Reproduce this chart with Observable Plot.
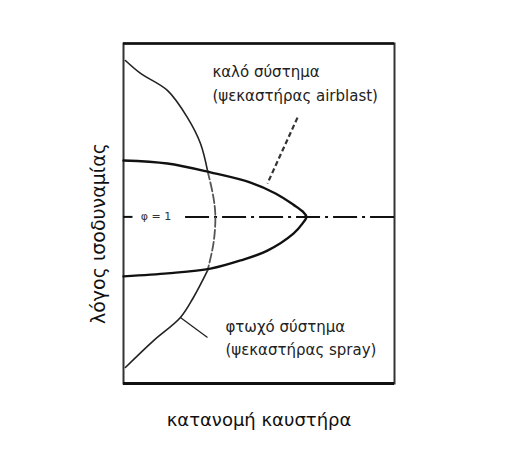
<!DOCTYPE html>
<html><head><meta charset="utf-8">
<script src="https://cdn.jsdelivr.net/npm/d3@7"></script>
<script src="https://cdn.jsdelivr.net/npm/@observablehq/plot@0.6"></script>
<style>body{margin:0;background:#fff;font-family:"DejaVu Sans",sans-serif}</style>
</head><body><div id="chart"></div>
<script>
// good system (airblast atomizer): burner distribution (x) vs equivalence ratio (y)
const goodX = [0, 0.162, 0.321, 0.469, 0.561, 0.627, 0.661, 0.675, 0.661, 0.627, 0.531, 0.432, 0.321, 0.162, 0];
const goodY = [1.166, 1.157, 1.131, 1.101, 1.069, 1.036, 1.016, 1.0, 0.981, 0.951, 0.901, 0.872, 0.848, 0.834, 0.825];
// poor system (spray atomizer)
const poorX = [0.007, 0.063, 0.162, 0.236, 0.284, 0.310, 0.332, 0.339, 0.332, 0.310, 0.258, 0.210, 0.111, 0.007];
const poorY = [1.46, 1.422, 1.372, 1.292, 1.216, 1.136, 1.057, 1.0, 0.922, 0.842, 0.763, 0.704, 0.636, 0.557];
const poorSeg = ["a","a","a","a","a","a","b","b","b","b","c","c","c","c"];
const phi = 1;
const labelGood = ["καλό σύστημα", "(ψεκαστήρας airblast)"];
const labelPoor = ["φτωχό σύστημα", "(ψεκαστήρας spray)"];
const xLabel = "κατανομή καυστήρα";
const yLabel = "λόγος ισοδυναμίας";
const phiLabel = "φ = 1";

const good = goodX.map((x, i) => ({x, y: goodY[i]}));
// split poor curve into segments, duplicating joint points so they connect
const poor = [];
["a","b","c"].forEach((s, k) => {
  const idx = poorSeg.map((v,i)=>v===s?i:-1).filter(i=>i>=0);
  if (k>0) idx.unshift(idx[0]-1);
  idx.forEach(i => poor.push({x: poorX[i], y: poorY[i], s}));
});

const FONT = "DejaVu Sans, sans-serif";
const chart = Plot.plot({
  width: 508, height: 459,
  marginLeft: 123, marginRight: 114, marginTop: 43, marginBottom: 76,
  x: {domain: [0, 1], axis: null},
  y: {domain: [0.51, 1.51], axis: null},
  style: {fontFamily: FONT, background: "#fff"},
  marks: [
    Plot.frame({stroke: "#333", strokeWidth: 2}),
    Plot.ruleY([0.51], {stroke: "#111", strokeWidth: 3}),
    Plot.ruleY([1.51], {stroke: "#111", strokeWidth: 2.5}),
    Plot.ruleY([phi], {x1: 0, x2: 0.035, stroke: "#111", strokeWidth: 2}),
    Plot.ruleY([phi], {x1: 0.229, x2: 1, stroke: "#111", strokeWidth: 2, strokeDasharray: "24,5,3,5"}),
    Plot.text([phiLabel], {x: 0.12, y: phi, fontSize: 11, fill: "#333"}),
    Plot.line(poor.filter(d=>d.s!=="b"), {x: "x", y: "y", z: "s", curve: "catmull-rom", stroke: "#222", strokeWidth: 1.6}),
    Plot.line(poor.filter(d=>d.s==="b"), {x: "x", y: "y", curve: "catmull-rom", stroke: "#555", strokeWidth: 1.8, strokeDasharray: "9,3"}),
    Plot.line(good, {x: "x", y: "y", curve: "catmull-rom", stroke: "#111", strokeWidth: 2.4}),
    Plot.link([0], {x1: () => 0.642, y1: () => 1.292, x2: () => 0.531, y2: () => 1.098, stroke: "#333", strokeWidth: 2.2, strokeDasharray: "5,3"}),
    Plot.link([0], {x1: () => 0.210, y1: () => 0.704, x2: () => 0.310, y2: () => 0.645, stroke: "#222", strokeWidth: 1.3}),
    Plot.text(labelGood, {x: 0.328, y: [1.425, 1.354], textAnchor: "start", fontSize: 15, fill: "#222"}),
    Plot.text(labelPoor, {x: 0.376, y: [0.675, 0.607], textAnchor: "start", fontSize: 15, fill: "#222"}),
    Plot.text([xLabel], {frameAnchor: "bottom", dy: 37, lineAnchor: "middle", textAnchor: "middle", fontSize: 18, fill: "#111"}),
    Plot.text([yLabel], {frameAnchor: "left", y: 0.951, dx: -25, rotate: -90, textAnchor: "middle", lineAnchor: "middle", fontSize: 19, fill: "#111"})
  ]
});
document.getElementById("chart").appendChild(chart);
</script></body></html>
